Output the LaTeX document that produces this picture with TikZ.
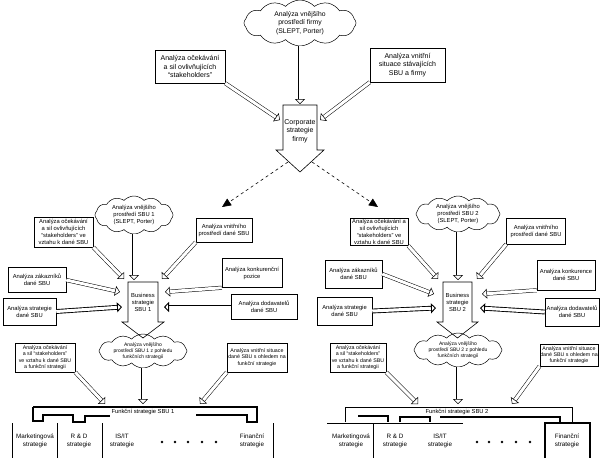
\documentclass[tikz,border=0pt]{standalone}
\usepackage{fontspec}
\setmainfont{Liberation Sans}
\usetikzlibrary{shapes.symbols,arrows.meta}
\begin{document}
\begin{tikzpicture}[x=1pt,y=-1pt,
  fA/.style={font=\fontsize{7}{8.5}\selectfont, align=center, inner sep=0.5pt},
  fB/.style={font=\fontsize{5.8}{7}\selectfont, align=center, inner sep=0.5pt},
  fC/.style={font=\fontsize{5.3}{6.4}\selectfont, align=center, inner sep=0.5pt},
  fD/.style={font=\fontsize{6.3}{7.5}\selectfont, align=center, inner sep=0.5pt},
  box/.style={draw, line width=0.5pt},
  cloudst/.style={cloud, draw, line width=0.5pt, cloud puffs=12, cloud puff arc=95, aspect=2.6, inner sep=0pt},
  barrow/.style={double, double distance=3pt, line width=0.5pt, -{Triangle[open, length=5pt, width=10pt]}},
  dasharrow/.style={dashed, line width=0.6pt, -{Triangle[length=9pt, width=8pt]}},
  blockarr/.style={draw, line width=0.6pt},
  bar/.style={line width=2pt},
  comb/.style={line width=1.2pt},
  sep/.style={line width=0.6pt},
  dot/.style={fill, circle, inner sep=0pt, minimum size=2.6pt}
]
\useasboundingbox (0,0) rectangle (600,461);

% ---------------- corporate level ----------------
\node[cloudst, minimum width=112pt, minimum height=46pt] (c0) at (300,23) {};
\node[fA, font=\fontsize{6.8}{8.3}\selectfont] (c0t) at (c0) {Analýza vnějšího\\prostředí firmy\\(SLEPT, Porter)};
\node[box, fA, minimum width=70pt, minimum height=33pt] (L0) at (190,66.5) {Analýza očekávání\\a sil ovlivňujících\\``stakeholders''};
\node[box, fA, minimum width=75pt, minimum height=34pt] (R0) at (407.5,65) {Analýza vnitřní\\situace stávajících\\SBU a firmy};

\draw[blockarr] (283,105) -- (317,105) -- (317,150) -- (324,150) -- (300,172) -- (276,150) -- (283,150) -- cycle;
\node[fA] (corp) at (300,131) {Corporate\\strategie\\firmy};
\coordinate (corpT) at (300,104);
\coordinate (corpL) at (280,120);
\coordinate (corpR) at (320,120);
\draw[barrow] (c0.south) -- (corpT);
\draw[barrow] (L0.south east) -- (corpL);
\draw[barrow] (R0.south west) -- (corpR);

\coordinate (tipL) at (288,162);
\coordinate (tipR) at (312,162);
\coordinate (toS1) at (222,207);
\coordinate (toS2) at (378,207);
\draw[dasharrow] (tipL) -- (toS1);
\draw[dasharrow] (tipR) -- (toS2);

% ---------------- SBU 1 ----------------
\node[cloudst, minimum width=78pt, minimum height=38pt] (c1) at (134,215) {};
\node[fB] (c1t) at (c1) {Analýza vnějšího\\prostředí SBU 1\\(SLEPT, Porter)};
\node[box, fB, minimum width=59pt, minimum height=30pt] (b1a) at (63.5,232) {Analýza očekávání\\a sil ovlivňujících\\``stakeholders'' ve\\vztahu k dané SBU};
\node[box, fB, minimum width=56pt, minimum height=24pt] (b1b) at (224,230) {Analýza vnitřního\\prostředí dané SBU};
\node[box, fB, minimum width=58pt, minimum height=25pt] (b1c) at (37,280) {Analýza zákazníků\\dané SBU};
\node[box, fB, minimum width=53pt, minimum height=27pt] (b1d) at (29.5,311.5) {Analýza strategie\\dané SBU};
\node[box, fB, minimum width=60pt, minimum height=29pt] (b1e) at (252,273) {Analýza konkurenční\\pozice};
\node[box, fB, minimum width=66pt, minimum height=25pt] (b1f) at (264,307) {Analýza dodavatelů\\dané SBU};

\draw[blockarr] (128,282) -- (158,282) -- (158,322) -- (164,322) -- (143,338) -- (122,322) -- (128,322) -- cycle;
\node[fB] (s1) at (143,302) {Business\\strategie\\SBU 1};
\coordinate (s1T) at (134,280);
\coordinate (s1a) at (124,279);
\coordinate (s1b) at (162,279);
\coordinate (s1c) at (120,292);
\coordinate (s1d) at (122,307);
\coordinate (s1e) at (165,292);
\coordinate (s1f) at (164,307);
\draw[barrow] (c1.south) -- (s1T);
\draw[barrow] (b1a.south east) -- (s1a);
\draw[barrow] (b1b.south west) -- (s1b);
\draw[barrow] (b1c.east) -- (s1c);
\draw[barrow, line width=0.9pt] (b1d.east) -- (s1d);
\draw[barrow] (b1e.south west) -- (s1e);
\draw[barrow, line width=0.9pt] (b1f.west) -- (s1f);

% ---------------- SBU 2 ----------------
\node[cloudst, minimum width=84pt, minimum height=36pt] (c2) at (458,214) {};
\node[fB] (c2t) at (c2) {Analýza vnějšího\\prostředí SBU 2\\(SLEPT, Porter)};
\node[box, fB, minimum width=58pt, minimum height=27pt] (b2a) at (379,232) {Analýza očekávání a\\sil ovlivňujících\\``stakeholders'' ve\\vztahu k dané SBU};
\node[box, fB, minimum width=59pt, minimum height=26pt] (b2b) at (536,231) {Analýza vnitřního\\prostředí dané SBU};
\node[box, fB, minimum width=57pt, minimum height=28pt] (b2c) at (353.5,274) {Analýza zákazníků\\dané SBU};
\node[box, fB, minimum width=55pt, minimum height=28pt] (b2d) at (344.5,311) {Analýza strategie\\dané SBU};
\node[box, fB, minimum width=58pt, minimum height=30pt] (b2e) at (566,275) {Analýza konkurence\\dané SBU};
\node[box, fB, minimum width=54pt, minimum height=28pt] (b2f) at (572,312) {Analýza dodavatelů\\dané SBU};

\draw[blockarr] (443,282) -- (472,282) -- (472,322) -- (478,322) -- (457.5,338) -- (437,322) -- (443,322) -- cycle;
\node[fB] (s2) at (457.5,302) {Business\\strategie\\SBU 2};
\coordinate (s2T) at (458,280);
\coordinate (s2a) at (438,279);
\coordinate (s2b) at (477,279);
\coordinate (s2c) at (434,294);
\coordinate (s2d) at (436,308);
\coordinate (s2e) at (482,294);
\coordinate (s2f) at (480,308);
\draw[barrow] (c2.south) -- (s2T);
\draw[barrow] (b2a.south east) -- (s2a);
\draw[barrow] (b2b.south west) -- (s2b);
\draw[barrow] (b2c.east) -- (s2c);
\draw[barrow, line width=0.9pt] (b2d.east) -- (s2d);
\draw[barrow] (b2e.south west) -- (s2e);
\draw[barrow, line width=0.9pt] (b2f.west) -- (s2f);

% ---------------- functional SBU 1 ----------------
\node[cloudst, minimum width=88pt, minimum height=34pt] (c3) at (143,351) {};
\node[fC, font=\fontsize{5}{6}\selectfont] (c3t) at (c3) {Analýza vnějšího\\prostředí SBU 1 z pohledu\\funkčních strategií};
\node[box, fC, minimum width=60pt, minimum height=29pt] (b3a) at (45,357.5) {Analýza očekávání\\a sil ``stakeholders''\\ve vztahu k dané SBU\\a funkční strategii};
\node[box, fC, minimum width=60pt, minimum height=29pt] (b3b) at (257,357.5) {Analýza vnitřní situace\\dané SBU s ohledem na\\funkční strategie};
\coordinate (f1T) at (143,404);
\coordinate (f1a) at (105,404);
\coordinate (f1b) at (200,404);
\draw[barrow] (c3.south) -- (f1T);
\draw[barrow] (b3a.south east) -- (f1a);
\draw[barrow] (b3b.south west) -- (f1b);

\draw[bar] (33,407) -- (258,407);
\node[fB] (f1) at (143,412) {Funkční strategie SBU 1};
\draw[comb] (33,407) -- (33,421) -- (43,421) -- (43,415) -- (73,415) -- (73,422) -- (85,422) -- (85,416) -- (110,416);
\draw[comb] (196,415) -- (247,415) -- (247,422) -- (257,422) -- (257,407);
\draw[sep] (12,423) -- (12,458);
\draw[sep] (57,423) -- (57,458);
\draw[sep] (102,423) -- (102,458);
\draw[sep] (273,423) -- (273,458);
\node[fD] (m1) at (35,441) {Marketingová\\strategie};
\node[fD] (r1) at (79,441) {R \& D\\strategie};
\node[fD] (i1) at (122,441) {IS/IT\\strategie};
\node[dot] (d11) at (162,442) {};
\node[dot] (d12) at (175,442) {};
\node[dot] (d13) at (188,442) {};
\node[dot] (d14) at (202,442) {};
\node[dot] (d15) at (216,442) {};
\node[fD] (fi1) at (252,441) {Finanční\\strategie};

% ---------------- functional SBU 2 ----------------
\node[cloudst, minimum width=88pt, minimum height=34pt] (c4) at (458,350) {};
\node[fC, font=\fontsize{5}{6}\selectfont] (c4t) at (c4) {Analýza vnějšího\\prostředí SBU 2 z pohledu\\funkčních strategií};
\node[box, fC, minimum width=56pt, minimum height=29pt] (b4a) at (358,357.5) {Analýza očekávání\\a sil ``stakeholders''\\ve vztahu k dané SBU\\a funkční strategii};
\node[box, fC, minimum width=58pt, minimum height=22pt] (b4b) at (569,355) {Analýza vnitřní situace\\dané SBU s ohledem na\\funkční strategie};
\coordinate (f2T) at (458,404);
\coordinate (f2a) at (418,404);
\coordinate (f2b) at (512,404);
\draw[barrow] (c4.south) -- (f2T);
\draw[barrow] (b4a.south east) -- (f2a);
\draw[barrow] (b4b.south west) -- (f2b);

\draw[sep] (345,422) -- (345,407) -- (572,407) -- (572,422);
\node[fB] (f2) at (457,411.5) {Funkční strategie SBU 2};
\draw[comb] (358,416) -- (388,416) -- (388,422);
\draw[comb] (400,422) -- (400,417) -- (430,417) -- (430,422);
\draw[comb] (440,417) -- (560,417) -- (560,422);
\draw[sep] (327,423) -- (463,423);
\draw[sep] (373,423) -- (373,458);
\draw[comb] (545,458) -- (545,423) -- (590,423) -- (590,458);
\node[fD] (m2) at (351,441) {Marketingová\\strategie};
\node[fD] (r2) at (395,441) {R \& D\\strategie};
\node[fD] (i2) at (440,441) {IS/IT\\strategie};
\node[dot] (d21) at (477,442) {};
\node[dot] (d22) at (489,442) {};
\node[dot] (d23) at (502,442) {};
\node[dot] (d24) at (516,442) {};
\node[dot] (d25) at (530,442) {};
\node[fD] (fi2) at (567,441) {Finanční\\strategie};
\end{tikzpicture}
\end{document}
